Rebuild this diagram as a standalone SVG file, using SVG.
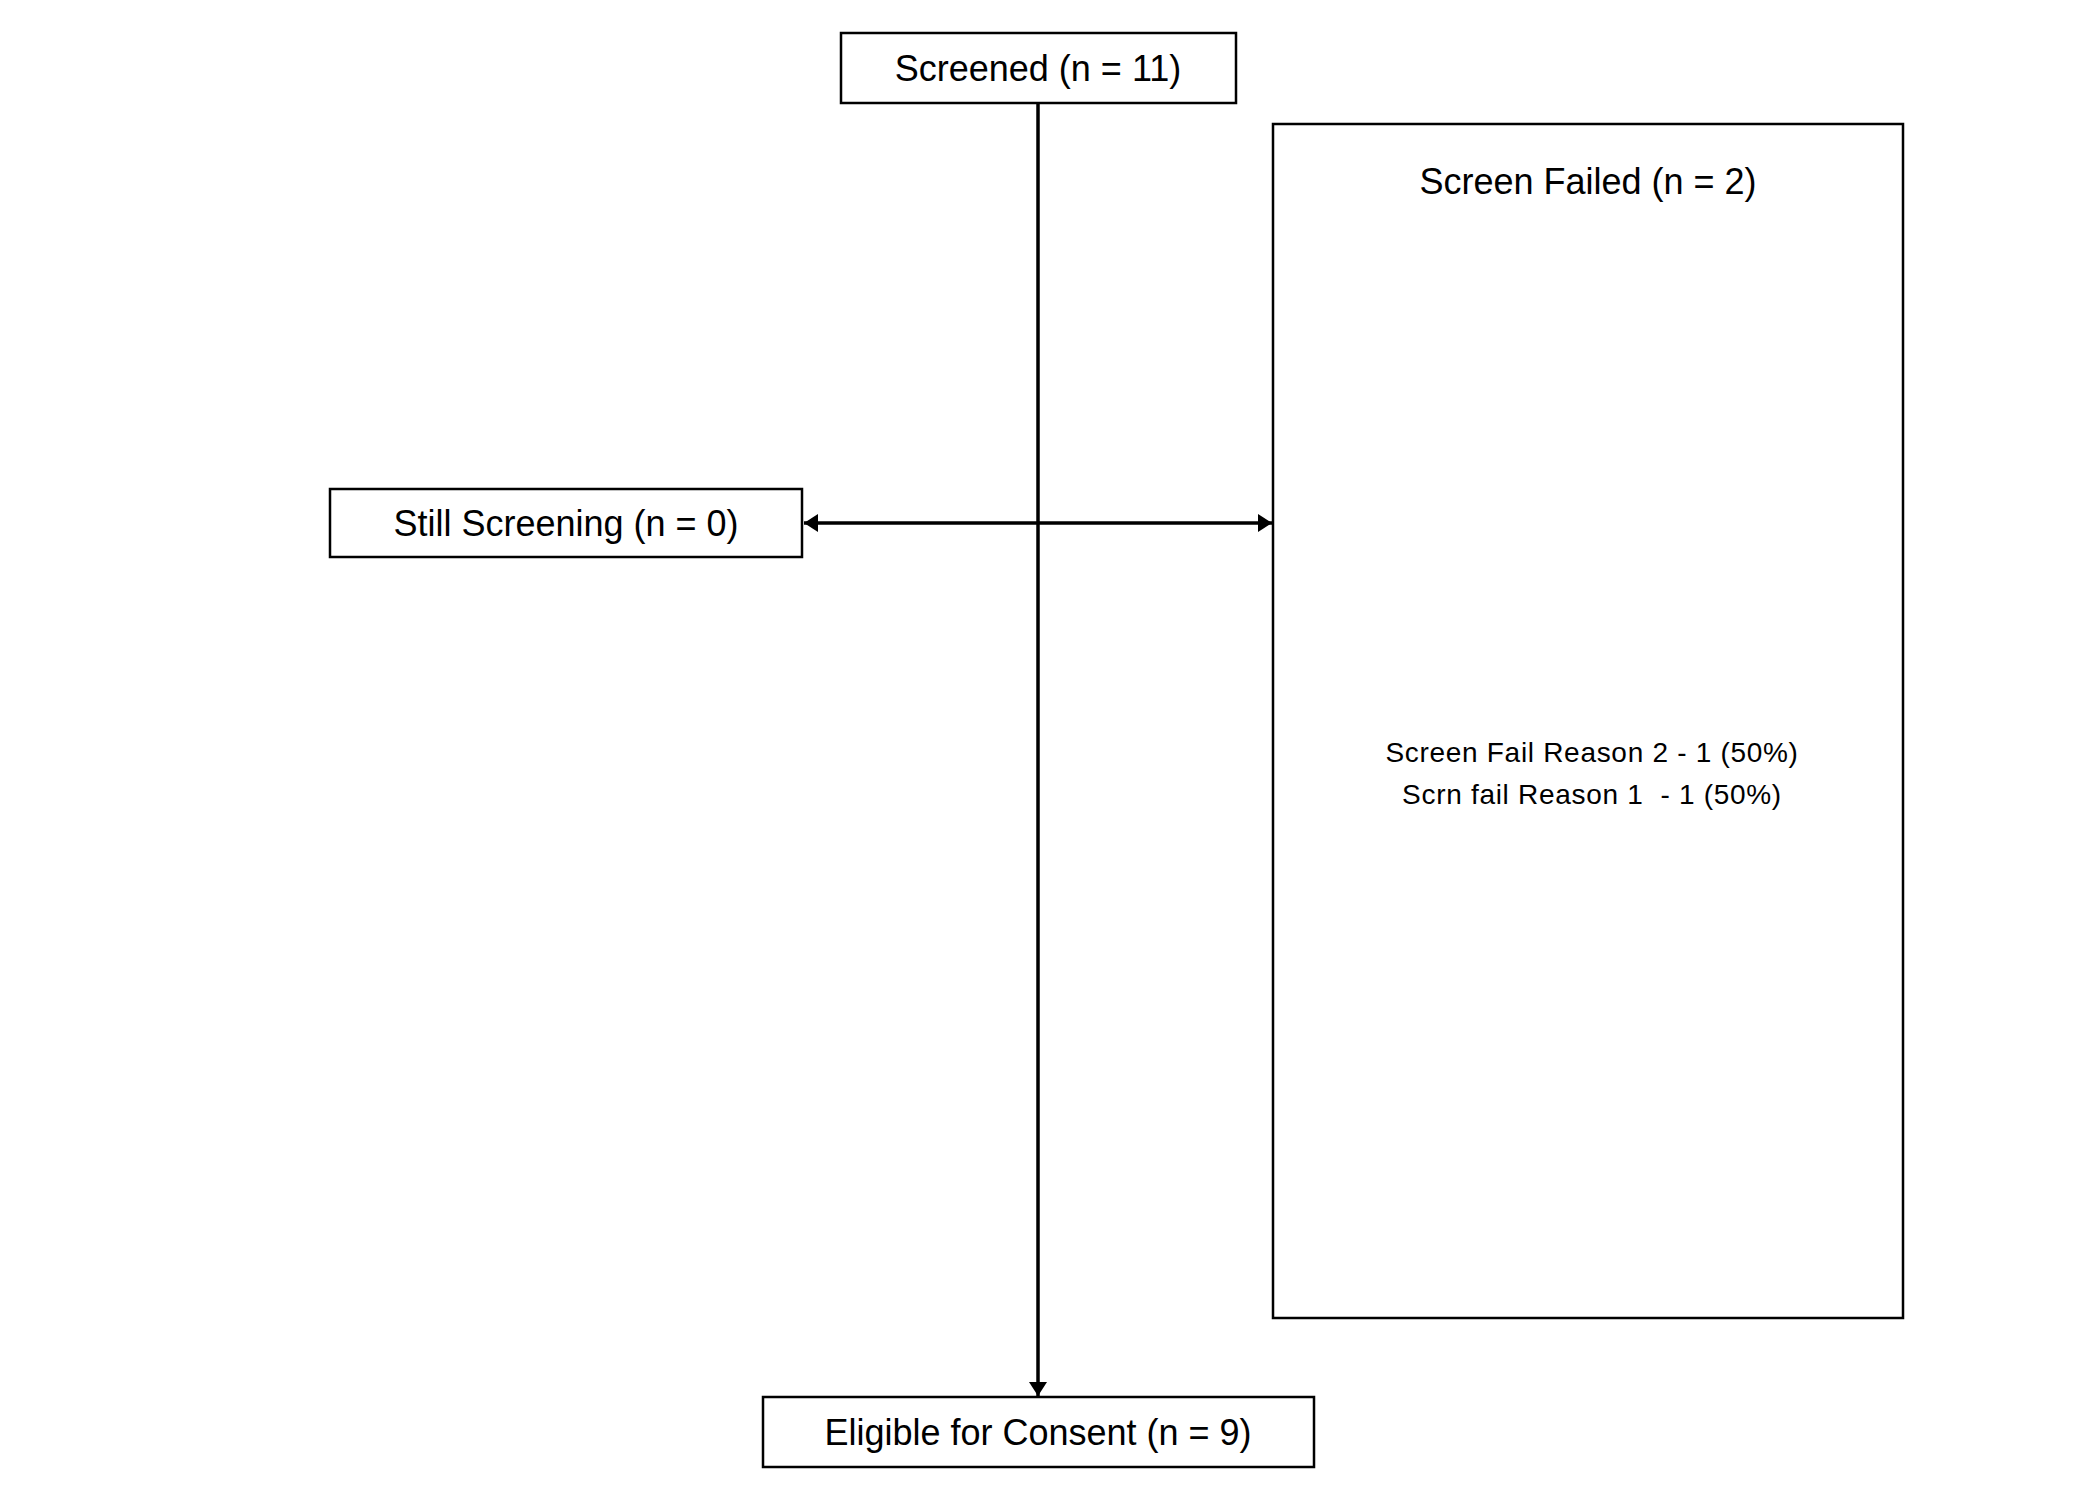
<svg xmlns="http://www.w3.org/2000/svg" width="2076" height="1500" viewBox="0 0 2076 1500">
<style>
.box{fill:#fff;stroke:#000;stroke-width:2.5}
.t{font-family:"Liberation Sans",Arial,sans-serif;font-size:36px;fill:#000;text-anchor:middle}
.r{font-family:"Liberation Sans",Arial,sans-serif;font-size:28px;letter-spacing:0.7px;fill:#000;text-anchor:middle;white-space:pre}
.c{stroke:#000;stroke-width:3.5;fill:none}
</style>
<defs>
<marker id="ah" markerUnits="userSpaceOnUse" markerWidth="15" markerHeight="18" refX="14" refY="9" orient="auto-start-reverse" viewBox="0 0 15 18">
<path d="M0,0 L14,9 L0,18 z" fill="#000"/>
</marker>
</defs>
<rect width="2076" height="1500" fill="#fff"/>
<g id="connectors">
<line class="c" x1="1038" y1="103" x2="1038" y2="1396" marker-end="url(#ah)"/>
<line class="c" x1="804" y1="523" x2="1272" y2="523" marker-start="url(#ah)" marker-end="url(#ah)"/>
</g>
<g id="screened">
<rect class="box" x="841" y="33" width="395" height="70"/>
<text class="t" x="1038" y="81">Screened (n = 11)</text>
</g>
<g id="still-screening">
<rect class="box" x="330" y="489" width="472" height="68"/>
<text class="t" x="566" y="536">Still Screening (n = 0)</text>
</g>
<g id="screen-failed">
<rect class="box" x="1273" y="124" width="630" height="1194"/>
<text class="t" x="1588" y="194">Screen Failed (n = 2)</text>
<text class="r" x="1592" y="762">Screen Fail Reason 2 - 1 (50%)</text>
<text class="r" x="1592" y="804">Scrn fail Reason 1  - 1 (50%)</text>
</g>
<g id="eligible">
<rect class="box" x="763" y="1397" width="551" height="70"/>
<text class="t" x="1038" y="1445">Eligible for Consent (n = 9)</text>
</g>
</svg>
